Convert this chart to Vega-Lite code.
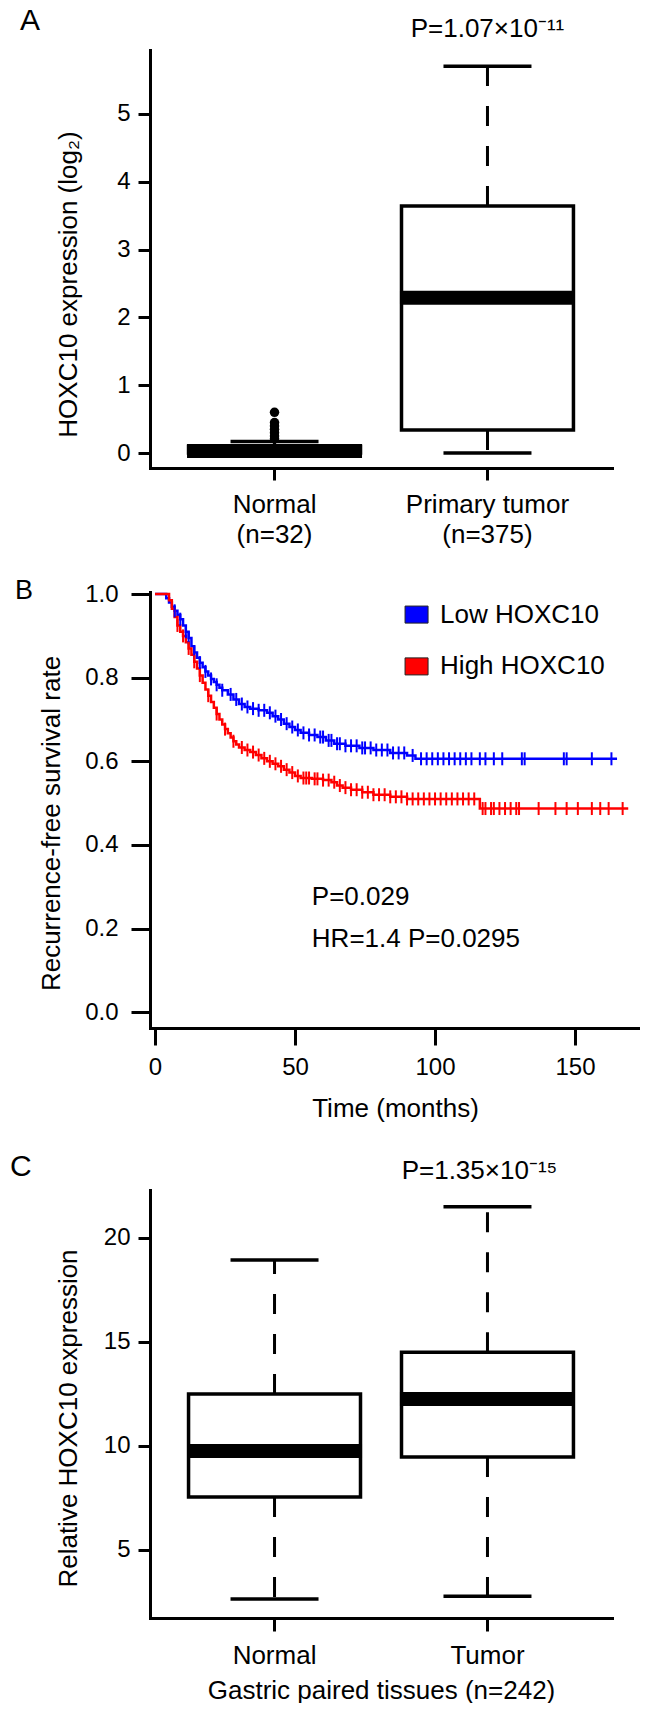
{
  "$schema": "https://vega.github.io/schema/vega-lite/v6.json",
  "padding": {"left": 10, "top": 6, "right": 0, "bottom": 0},
  "spacing": 30,
  "bounds": "full",
  "resolve": {"scale": {"fill": "independent", "stroke": "independent"}},
  "config": {
    "font": "Liberation Sans",
    "view": {"stroke": null},
    "axis": {"grid": false, "domainColor": "black", "domainWidth": 3, "domainCap": "square", "tickColor": "black", "tickWidth": 3, "labelColor": "black", "titleColor": "black", "labelFontSize": 24, "titleFontSize": 26, "titleFontWeight": "normal", "labelFont": "Liberation Sans", "titleFont": "Liberation Sans"},
    "title": {"fontWeight": "normal", "color": "black", "font": "Liberation Sans", "anchor": "start", "frame": "group", "baseline": "alphabetic"},
    "text": {"font": "Liberation Sans", "color": "black"}
  },
  "datasets": {
    "boxA": [
      {"group": "Normal", "lo": 0, "q1": 0, "med": 0.03, "q3": 0.1, "hi": 0.17},
      {"group": "Primary tumor", "lo": 0, "q1": 0.34, "med": 2.29, "q3": 3.64, "hi": 5.7}
    ],
    "outA": [
      {"group": "Normal", "value": 0.6},
      {"group": "Normal", "value": 0.45},
      {"group": "Normal", "value": 0.4},
      {"group": "Normal", "value": 0.35},
      {"group": "Normal", "value": 0.3},
      {"group": "Normal", "value": 0.25},
      {"group": "Normal", "value": 0.21}
    ],
    "boxC": [
      {"group": "Normal", "lo": 2.64, "q1": 7.55, "med": 9.76, "q3": 12.5, "hi": 18.94},
      {"group": "Tumor", "lo": 2.78, "q1": 9.47, "med": 12.26, "q3": 14.5, "hi": 21.5}
    ],
    "km": [
      {"group": "Low HOXC10", "month": 0, "surv": 1.0},
      {"group": "Low HOXC10", "month": 4, "surv": 0.99},
      {"group": "Low HOXC10", "month": 5, "surv": 0.98},
      {"group": "Low HOXC10", "month": 6, "surv": 0.97},
      {"group": "Low HOXC10", "month": 7, "surv": 0.96},
      {"group": "Low HOXC10", "month": 8, "surv": 0.95},
      {"group": "Low HOXC10", "month": 9, "surv": 0.94},
      {"group": "Low HOXC10", "month": 10, "surv": 0.925},
      {"group": "Low HOXC10", "month": 11, "surv": 0.91},
      {"group": "Low HOXC10", "month": 12, "surv": 0.895},
      {"group": "Low HOXC10", "month": 13, "surv": 0.875},
      {"group": "Low HOXC10", "month": 14, "surv": 0.86},
      {"group": "Low HOXC10", "month": 15, "surv": 0.848},
      {"group": "Low HOXC10", "month": 16, "surv": 0.836},
      {"group": "Low HOXC10", "month": 17, "surv": 0.825},
      {"group": "Low HOXC10", "month": 18, "surv": 0.815},
      {"group": "Low HOXC10", "month": 19, "surv": 0.805},
      {"group": "Low HOXC10", "month": 20, "surv": 0.797},
      {"group": "Low HOXC10", "month": 21, "surv": 0.79},
      {"group": "Low HOXC10", "month": 22, "surv": 0.783},
      {"group": "Low HOXC10", "month": 23, "surv": 0.776},
      {"group": "Low HOXC10", "month": 24, "surv": 0.77},
      {"group": "Low HOXC10", "month": 26, "surv": 0.76},
      {"group": "Low HOXC10", "month": 28, "surv": 0.748},
      {"group": "Low HOXC10", "month": 30, "surv": 0.737},
      {"group": "Low HOXC10", "month": 32, "surv": 0.73},
      {"group": "Low HOXC10", "month": 34, "surv": 0.726},
      {"group": "Low HOXC10", "month": 37, "surv": 0.722},
      {"group": "Low HOXC10", "month": 40, "surv": 0.716},
      {"group": "Low HOXC10", "month": 42, "surv": 0.708},
      {"group": "Low HOXC10", "month": 44, "surv": 0.7},
      {"group": "Low HOXC10", "month": 46, "surv": 0.69},
      {"group": "Low HOXC10", "month": 48, "surv": 0.682},
      {"group": "Low HOXC10", "month": 50, "surv": 0.675},
      {"group": "Low HOXC10", "month": 52, "surv": 0.668},
      {"group": "Low HOXC10", "month": 55, "surv": 0.663},
      {"group": "Low HOXC10", "month": 58, "surv": 0.658},
      {"group": "Low HOXC10", "month": 61, "surv": 0.65},
      {"group": "Low HOXC10", "month": 64, "surv": 0.642},
      {"group": "Low HOXC10", "month": 68, "surv": 0.637},
      {"group": "Low HOXC10", "month": 73, "surv": 0.632},
      {"group": "Low HOXC10", "month": 78, "surv": 0.627},
      {"group": "Low HOXC10", "month": 84, "surv": 0.62},
      {"group": "Low HOXC10", "month": 90, "surv": 0.614},
      {"group": "Low HOXC10", "month": 93, "surv": 0.606},
      {"group": "Low HOXC10", "month": 165, "surv": 0.606},
      {"group": "High HOXC10", "month": 0, "surv": 1.0},
      {"group": "High HOXC10", "month": 5, "surv": 0.985},
      {"group": "High HOXC10", "month": 6, "surv": 0.965},
      {"group": "High HOXC10", "month": 7, "surv": 0.945},
      {"group": "High HOXC10", "month": 8, "surv": 0.925},
      {"group": "High HOXC10", "month": 9, "surv": 0.91},
      {"group": "High HOXC10", "month": 10, "surv": 0.9},
      {"group": "High HOXC10", "month": 11, "surv": 0.885},
      {"group": "High HOXC10", "month": 12, "surv": 0.87},
      {"group": "High HOXC10", "month": 13, "surv": 0.855},
      {"group": "High HOXC10", "month": 14, "surv": 0.838},
      {"group": "High HOXC10", "month": 15, "surv": 0.822},
      {"group": "High HOXC10", "month": 16, "surv": 0.805},
      {"group": "High HOXC10", "month": 17, "surv": 0.788},
      {"group": "High HOXC10", "month": 18, "surv": 0.772},
      {"group": "High HOXC10", "month": 19, "surv": 0.757},
      {"group": "High HOXC10", "month": 20, "surv": 0.742},
      {"group": "High HOXC10", "month": 21, "surv": 0.728},
      {"group": "High HOXC10", "month": 22, "surv": 0.713},
      {"group": "High HOXC10", "month": 23, "surv": 0.7},
      {"group": "High HOXC10", "month": 24, "surv": 0.688},
      {"group": "High HOXC10", "month": 25, "surv": 0.677},
      {"group": "High HOXC10", "month": 26, "surv": 0.667},
      {"group": "High HOXC10", "month": 27, "surv": 0.657},
      {"group": "High HOXC10", "month": 28, "surv": 0.648},
      {"group": "High HOXC10", "month": 29, "surv": 0.64},
      {"group": "High HOXC10", "month": 30, "surv": 0.633},
      {"group": "High HOXC10", "month": 32, "surv": 0.627},
      {"group": "High HOXC10", "month": 34, "surv": 0.622},
      {"group": "High HOXC10", "month": 36, "surv": 0.615},
      {"group": "High HOXC10", "month": 38, "surv": 0.607},
      {"group": "High HOXC10", "month": 40, "surv": 0.6},
      {"group": "High HOXC10", "month": 42, "surv": 0.594},
      {"group": "High HOXC10", "month": 44, "surv": 0.588},
      {"group": "High HOXC10", "month": 46, "surv": 0.58},
      {"group": "High HOXC10", "month": 48, "surv": 0.573},
      {"group": "High HOXC10", "month": 50, "surv": 0.565},
      {"group": "High HOXC10", "month": 52, "surv": 0.56},
      {"group": "High HOXC10", "month": 56, "surv": 0.558},
      {"group": "High HOXC10", "month": 60, "surv": 0.555},
      {"group": "High HOXC10", "month": 63, "surv": 0.55},
      {"group": "High HOXC10", "month": 65, "surv": 0.542},
      {"group": "High HOXC10", "month": 67, "surv": 0.537},
      {"group": "High HOXC10", "month": 70, "surv": 0.532},
      {"group": "High HOXC10", "month": 74, "surv": 0.526},
      {"group": "High HOXC10", "month": 78, "surv": 0.52},
      {"group": "High HOXC10", "month": 84, "surv": 0.515},
      {"group": "High HOXC10", "month": 90, "surv": 0.51},
      {"group": "High HOXC10", "month": 116, "surv": 0.487},
      {"group": "High HOXC10", "month": 169, "surv": 0.487}
    ],
    "censor": [
      {"group": "Low HOXC10", "month": 7, "surv": 0.96},
      {"group": "Low HOXC10", "month": 9, "surv": 0.94},
      {"group": "Low HOXC10", "month": 11, "surv": 0.91},
      {"group": "Low HOXC10", "month": 12, "surv": 0.895},
      {"group": "Low HOXC10", "month": 14, "surv": 0.86},
      {"group": "Low HOXC10", "month": 16, "surv": 0.836},
      {"group": "Low HOXC10", "month": 18, "surv": 0.815},
      {"group": "Low HOXC10", "month": 20, "surv": 0.797},
      {"group": "Low HOXC10", "month": 22, "surv": 0.783},
      {"group": "Low HOXC10", "month": 24, "surv": 0.77},
      {"group": "Low HOXC10", "month": 27, "surv": 0.76},
      {"group": "Low HOXC10", "month": 29, "surv": 0.748},
      {"group": "Low HOXC10", "month": 31, "surv": 0.737},
      {"group": "Low HOXC10", "month": 33, "surv": 0.73},
      {"group": "Low HOXC10", "month": 35, "surv": 0.726},
      {"group": "Low HOXC10", "month": 37, "surv": 0.722},
      {"group": "Low HOXC10", "month": 39, "surv": 0.722},
      {"group": "Low HOXC10", "month": 41, "surv": 0.716},
      {"group": "Low HOXC10", "month": 43, "surv": 0.708},
      {"group": "Low HOXC10", "month": 45, "surv": 0.7},
      {"group": "Low HOXC10", "month": 47, "surv": 0.69},
      {"group": "Low HOXC10", "month": 49, "surv": 0.682},
      {"group": "Low HOXC10", "month": 51, "surv": 0.675},
      {"group": "Low HOXC10", "month": 53, "surv": 0.668},
      {"group": "Low HOXC10", "month": 55, "surv": 0.663},
      {"group": "Low HOXC10", "month": 57, "surv": 0.663},
      {"group": "Low HOXC10", "month": 59, "surv": 0.658},
      {"group": "Low HOXC10", "month": 60, "surv": 0.658},
      {"group": "Low HOXC10", "month": 62, "surv": 0.65},
      {"group": "Low HOXC10", "month": 63, "surv": 0.65},
      {"group": "Low HOXC10", "month": 65, "surv": 0.642},
      {"group": "Low HOXC10", "month": 66, "surv": 0.642},
      {"group": "Low HOXC10", "month": 68, "surv": 0.637},
      {"group": "Low HOXC10", "month": 70, "surv": 0.637},
      {"group": "Low HOXC10", "month": 72, "surv": 0.637},
      {"group": "Low HOXC10", "month": 74, "surv": 0.632},
      {"group": "Low HOXC10", "month": 75, "surv": 0.632},
      {"group": "Low HOXC10", "month": 77, "surv": 0.632},
      {"group": "Low HOXC10", "month": 79, "surv": 0.627},
      {"group": "Low HOXC10", "month": 81, "surv": 0.627},
      {"group": "Low HOXC10", "month": 83, "surv": 0.627},
      {"group": "Low HOXC10", "month": 85, "surv": 0.62},
      {"group": "Low HOXC10", "month": 87, "surv": 0.62},
      {"group": "Low HOXC10", "month": 89, "surv": 0.62},
      {"group": "Low HOXC10", "month": 92, "surv": 0.614},
      {"group": "Low HOXC10", "month": 95, "surv": 0.606},
      {"group": "Low HOXC10", "month": 97, "surv": 0.606},
      {"group": "Low HOXC10", "month": 99, "surv": 0.606},
      {"group": "Low HOXC10", "month": 101, "surv": 0.606},
      {"group": "Low HOXC10", "month": 103, "surv": 0.606},
      {"group": "Low HOXC10", "month": 105, "surv": 0.606},
      {"group": "Low HOXC10", "month": 107, "surv": 0.606},
      {"group": "Low HOXC10", "month": 109, "surv": 0.606},
      {"group": "Low HOXC10", "month": 111, "surv": 0.606},
      {"group": "Low HOXC10", "month": 113, "surv": 0.606},
      {"group": "Low HOXC10", "month": 116, "surv": 0.606},
      {"group": "Low HOXC10", "month": 118, "surv": 0.606},
      {"group": "Low HOXC10", "month": 121, "surv": 0.606},
      {"group": "Low HOXC10", "month": 124, "surv": 0.606},
      {"group": "Low HOXC10", "month": 131, "surv": 0.606},
      {"group": "Low HOXC10", "month": 132, "surv": 0.606},
      {"group": "Low HOXC10", "month": 146, "surv": 0.606},
      {"group": "Low HOXC10", "month": 147, "surv": 0.606},
      {"group": "Low HOXC10", "month": 156, "surv": 0.606},
      {"group": "Low HOXC10", "month": 163, "surv": 0.606},
      {"group": "High HOXC10", "month": 8, "surv": 0.925},
      {"group": "High HOXC10", "month": 10, "surv": 0.9},
      {"group": "High HOXC10", "month": 12, "surv": 0.87},
      {"group": "High HOXC10", "month": 14, "surv": 0.838},
      {"group": "High HOXC10", "month": 16, "surv": 0.805},
      {"group": "High HOXC10", "month": 19, "surv": 0.757},
      {"group": "High HOXC10", "month": 22, "surv": 0.713},
      {"group": "High HOXC10", "month": 25, "surv": 0.677},
      {"group": "High HOXC10", "month": 28, "surv": 0.648},
      {"group": "High HOXC10", "month": 31, "surv": 0.633},
      {"group": "High HOXC10", "month": 33, "surv": 0.627},
      {"group": "High HOXC10", "month": 35, "surv": 0.622},
      {"group": "High HOXC10", "month": 37, "surv": 0.615},
      {"group": "High HOXC10", "month": 39, "surv": 0.607},
      {"group": "High HOXC10", "month": 41, "surv": 0.6},
      {"group": "High HOXC10", "month": 43, "surv": 0.594},
      {"group": "High HOXC10", "month": 45, "surv": 0.588},
      {"group": "High HOXC10", "month": 47, "surv": 0.58},
      {"group": "High HOXC10", "month": 49, "surv": 0.573},
      {"group": "High HOXC10", "month": 51, "surv": 0.565},
      {"group": "High HOXC10", "month": 53, "surv": 0.56},
      {"group": "High HOXC10", "month": 54, "surv": 0.56},
      {"group": "High HOXC10", "month": 55, "surv": 0.56},
      {"group": "High HOXC10", "month": 57, "surv": 0.558},
      {"group": "High HOXC10", "month": 58, "surv": 0.558},
      {"group": "High HOXC10", "month": 60, "surv": 0.555},
      {"group": "High HOXC10", "month": 62, "surv": 0.555},
      {"group": "High HOXC10", "month": 64, "surv": 0.55},
      {"group": "High HOXC10", "month": 66, "surv": 0.542},
      {"group": "High HOXC10", "month": 68, "surv": 0.537},
      {"group": "High HOXC10", "month": 70, "surv": 0.532},
      {"group": "High HOXC10", "month": 72, "surv": 0.532},
      {"group": "High HOXC10", "month": 74, "surv": 0.526},
      {"group": "High HOXC10", "month": 76, "surv": 0.526},
      {"group": "High HOXC10", "month": 78, "surv": 0.52},
      {"group": "High HOXC10", "month": 80, "surv": 0.52},
      {"group": "High HOXC10", "month": 82, "surv": 0.52},
      {"group": "High HOXC10", "month": 84, "surv": 0.515},
      {"group": "High HOXC10", "month": 86, "surv": 0.515},
      {"group": "High HOXC10", "month": 88, "surv": 0.515},
      {"group": "High HOXC10", "month": 90, "surv": 0.51},
      {"group": "High HOXC10", "month": 92, "surv": 0.51},
      {"group": "High HOXC10", "month": 94, "surv": 0.51},
      {"group": "High HOXC10", "month": 96, "surv": 0.51},
      {"group": "High HOXC10", "month": 98, "surv": 0.51},
      {"group": "High HOXC10", "month": 100, "surv": 0.51},
      {"group": "High HOXC10", "month": 102, "surv": 0.51},
      {"group": "High HOXC10", "month": 104, "surv": 0.51},
      {"group": "High HOXC10", "month": 106, "surv": 0.51},
      {"group": "High HOXC10", "month": 108, "surv": 0.51},
      {"group": "High HOXC10", "month": 110, "surv": 0.51},
      {"group": "High HOXC10", "month": 112, "surv": 0.51},
      {"group": "High HOXC10", "month": 114, "surv": 0.51},
      {"group": "High HOXC10", "month": 117, "surv": 0.487},
      {"group": "High HOXC10", "month": 118, "surv": 0.487},
      {"group": "High HOXC10", "month": 120, "surv": 0.487},
      {"group": "High HOXC10", "month": 121, "surv": 0.487},
      {"group": "High HOXC10", "month": 123, "surv": 0.487},
      {"group": "High HOXC10", "month": 125, "surv": 0.487},
      {"group": "High HOXC10", "month": 127, "surv": 0.487},
      {"group": "High HOXC10", "month": 129, "surv": 0.487},
      {"group": "High HOXC10", "month": 130, "surv": 0.487},
      {"group": "High HOXC10", "month": 137, "surv": 0.487},
      {"group": "High HOXC10", "month": 143, "surv": 0.487},
      {"group": "High HOXC10", "month": 147, "surv": 0.487},
      {"group": "High HOXC10", "month": 151, "surv": 0.487},
      {"group": "High HOXC10", "month": 156, "surv": 0.487},
      {"group": "High HOXC10", "month": 159, "surv": 0.487},
      {"group": "High HOXC10", "month": 162, "surv": 0.487},
      {"group": "High HOXC10", "month": 167, "surv": 0.487}
    ]
  },
  "vconcat": [
    {
      "width": 462,
      "height": 418,
      "title": {"text": "A", "fontSize": 30, "dx": -130, "offset": -20},
      "layer": [
        {
          "data": {"name": "boxA"},
          "mark": {"type": "rule", "strokeWidth": 3, "strokeDash": [20, 20], "color": "black"},
          "encoding": {
            "x": {"field": "group", "type": "nominal", "scale": {"type": "band", "domain": ["Normal", "Primary tumor"], "paddingInner": 0.1925, "paddingOuter": 0.181},
              "axis": {"title": null, "labelAngle": 0, "tickSize": 12, "labelPadding": 11, "labelFontSize": 26, "labelLineHeight": 30, "labelExpr": "datum.value == 'Normal' ? ['Normal', '(n=32)'] : ['Primary tumor', '(n=375)']"}},
            "y": {"field": "q3", "type": "quantitative", "scale": {"domain": [-0.22, 5.94], "nice": false, "zero": false},
              "axis": {"title": "HOXC10 expression (log₂)", "values": [0, 1, 2, 3, 4, 5], "format": "d", "tickSize": 12, "labelPadding": 8, "titlePadding": 35, "titleY": 234}},
            "y2": {"field": "hi"}
          }
        },
        {
          "data": {"name": "boxA"},
          "mark": {"type": "rule", "strokeWidth": 3, "strokeDash": [20, 20], "color": "black"},
          "encoding": {
            "x": {"field": "group", "type": "nominal"},
            "y": {"field": "q1", "type": "quantitative"},
            "y2": {"field": "lo"}
          }
        },
        {
          "data": {"name": "boxA"},
          "mark": {"type": "bar", "fill": "white", "stroke": "black", "strokeWidth": 3.5, "opacity": 1},
          "encoding": {
            "x": {"field": "group", "type": "nominal"},
            "y": {"field": "q1", "type": "quantitative"},
            "y2": {"field": "q3"}
          }
        },
        {
          "data": {"name": "boxA"},
          "mark": {"type": "tick", "size": 175, "thickness": 14, "color": "black", "opacity": 1},
          "encoding": {
            "x": {"field": "group", "type": "nominal"},
            "y": {"field": "med", "type": "quantitative"}
          }
        },
        {
          "data": {"name": "boxA"},
          "mark": {"type": "tick", "size": 88, "thickness": 3.5, "color": "black", "opacity": 1},
          "encoding": {
            "x": {"field": "group", "type": "nominal"},
            "y": {"field": "hi", "type": "quantitative"}
          }
        },
        {
          "data": {"name": "boxA"},
          "mark": {"type": "tick", "size": 88, "thickness": 3.5, "color": "black", "opacity": 1},
          "encoding": {
            "x": {"field": "group", "type": "nominal"},
            "y": {"field": "lo", "type": "quantitative"}
          }
        },
        {
          "data": {"name": "outA"},
          "mark": {"type": "point", "filled": true, "size": 90, "color": "black", "opacity": 1},
          "encoding": {
            "x": {"field": "group", "type": "nominal"},
            "y": {"field": "value", "type": "quantitative"}
          }
        },
        {
          "data": {"values": [{"group": "Primary tumor", "label": "P=1.07×10⁻¹¹"}]},
          "mark": {"type": "text", "fontSize": 26, "baseline": "alphabetic", "align": "center"},
          "encoding": {
            "x": {"field": "group", "type": "nominal"},
            "y": {"datum": 6.13},
            "text": {"field": "label"}
          }
        }
      ]
    },
    {
      "width": 490,
      "height": 436,
      "title": {"text": "B", "fontSize": 27, "dx": -135, "offset": -23},
      "layer": [
        {
          "data": {"name": "km"},
          "mark": {"type": "line", "interpolate": "step-after", "strokeWidth": 2.5},
          "encoding": {
            "x": {"field": "month", "type": "quantitative", "scale": {"domain": [-1.8, 173.2], "nice": false, "zero": false},
              "axis": {"values": [0, 50, 100, 150], "title": "Time (months)", "tickSize": 17, "labelPadding": 10, "titlePadding": 16}},
            "y": {"field": "surv", "type": "quantitative", "scale": {"domain": [-0.038, 1.005], "nice": false, "zero": false},
              "axis": {"values": [0, 0.2, 0.4, 0.6, 0.8, 1], "format": ".1f", "title": "Recurrence-free survival rate", "tickSize": 19, "labelPadding": 13, "titlePadding": 20, "titleY": 231}},
            "stroke": {"field": "group", "type": "nominal", "scale": {"domain": ["Low HOXC10", "High HOXC10"], "range": ["#0000ff", "#ff0000"]}, "legend": null}
          }
        },
        {
          "data": {"name": "censor"},
          "mark": {"type": "tick", "orient": "vertical", "size": 13, "thickness": 2, "opacity": 1},
          "encoding": {
            "x": {"field": "month", "type": "quantitative"},
            "y": {"field": "surv", "type": "quantitative"},
            "fill": {"field": "group", "type": "nominal", "scale": {"domain": ["Low HOXC10", "High HOXC10"], "range": ["#0000ff", "#ff0000"]}, "legend": null}
          }
        },
        {
          "data": {"values": [{"label": "Low HOXC10"}]},
          "mark": {"type": "point", "shape": "M-1,-0.74H1V0.74H-1Z", "size": 529, "filled": true, "fill": "#0000ff", "stroke": "#222222", "strokeWidth": 1, "opacity": 1},
          "encoding": {"x": {"datum": 93.4}, "y": {"datum": 0.951}}
        },
        {
          "data": {"values": [{"label": "High HOXC10"}]},
          "mark": {"type": "point", "shape": "M-1,-0.74H1V0.74H-1Z", "size": 529, "filled": true, "fill": "#ff0000", "stroke": "#222222", "strokeWidth": 1, "opacity": 1},
          "encoding": {"x": {"datum": 93.4}, "y": {"datum": 0.827}}
        },
        {
          "data": {"values": [{"label": "Low HOXC10"}]},
          "mark": {"type": "text", "fontSize": 26, "baseline": "middle", "align": "left"},
          "encoding": {"x": {"datum": 101.8}, "y": {"datum": 0.951}, "text": {"field": "label"}}
        },
        {
          "data": {"values": [{"label": "High HOXC10"}]},
          "mark": {"type": "text", "fontSize": 26, "baseline": "middle", "align": "left"},
          "encoding": {"x": {"datum": 101.8}, "y": {"datum": 0.827}, "text": {"field": "label"}}
        },
        {
          "data": {"values": [{"label": "P=0.029"}]},
          "mark": {"type": "text", "fontSize": 26, "baseline": "alphabetic", "align": "left"},
          "encoding": {"x": {"datum": 56}, "y": {"datum": 0.256}, "text": {"field": "label"}}
        },
        {
          "data": {"values": [{"label": "HR=1.4 P=0.0295"}]},
          "mark": {"type": "text", "fontSize": 26, "baseline": "alphabetic", "align": "left"},
          "encoding": {"x": {"datum": 56}, "y": {"datum": 0.155}, "text": {"field": "label"}}
        }
      ]
    },
    {
      "width": 462,
      "height": 428,
      "title": {"text": "C", "fontSize": 30, "dx": -140, "offset": -24},
      "layer": [
        {
          "data": {"name": "boxC"},
          "mark": {"type": "rule", "strokeWidth": 3, "strokeDash": [20, 20], "color": "black"},
          "encoding": {
            "x": {"field": "group", "type": "nominal", "scale": {"type": "band", "domain": ["Normal", "Tumor"], "paddingInner": 0.1925, "paddingOuter": 0.181},
              "axis": {"title": "Gastric paired tissues (n=242)", "labelAngle": 0, "tickSize": 13, "labelPadding": 11, "labelFontSize": 26, "titlePadding": 9}},
            "y": {"field": "q3", "type": "quantitative", "scale": {"domain": [1.73, 22.3], "nice": false, "zero": false},
              "axis": {"title": "Relative HOXC10 expression", "values": [5, 10, 15, 20], "format": "d", "tickSize": 12, "labelPadding": 8, "titlePadding": 22, "titleY": 228}},
            "y2": {"field": "hi"}
          }
        },
        {
          "data": {"name": "boxC"},
          "mark": {"type": "rule", "strokeWidth": 3, "strokeDash": [20, 20], "color": "black"},
          "encoding": {
            "x": {"field": "group", "type": "nominal"},
            "y": {"field": "q1", "type": "quantitative"},
            "y2": {"field": "lo"}
          }
        },
        {
          "data": {"name": "boxC"},
          "mark": {"type": "bar", "fill": "white", "stroke": "black", "strokeWidth": 3.5, "opacity": 1},
          "encoding": {
            "x": {"field": "group", "type": "nominal"},
            "y": {"field": "q1", "type": "quantitative"},
            "y2": {"field": "q3"}
          }
        },
        {
          "data": {"name": "boxC"},
          "mark": {"type": "tick", "size": 175, "thickness": 14, "color": "black", "opacity": 1},
          "encoding": {
            "x": {"field": "group", "type": "nominal"},
            "y": {"field": "med", "type": "quantitative"}
          }
        },
        {
          "data": {"name": "boxC"},
          "mark": {"type": "tick", "size": 88, "thickness": 3.5, "color": "black", "opacity": 1},
          "encoding": {
            "x": {"field": "group", "type": "nominal"},
            "y": {"field": "hi", "type": "quantitative"}
          }
        },
        {
          "data": {"name": "boxC"},
          "mark": {"type": "tick", "size": 88, "thickness": 3.5, "color": "black", "opacity": 1},
          "encoding": {
            "x": {"field": "group", "type": "nominal"},
            "y": {"field": "lo", "type": "quantitative"}
          }
        },
        {
          "data": {"values": [{"group": "Tumor", "label": "P=1.35×10⁻¹⁵"}]},
          "mark": {"type": "text", "fontSize": 26, "baseline": "alphabetic", "align": "center", "dx": -8},
          "encoding": {
            "x": {"field": "group", "type": "nominal"},
            "y": {"datum": 22.83},
            "text": {"field": "label"}
          }
        }
      ]
    }
  ]
}
